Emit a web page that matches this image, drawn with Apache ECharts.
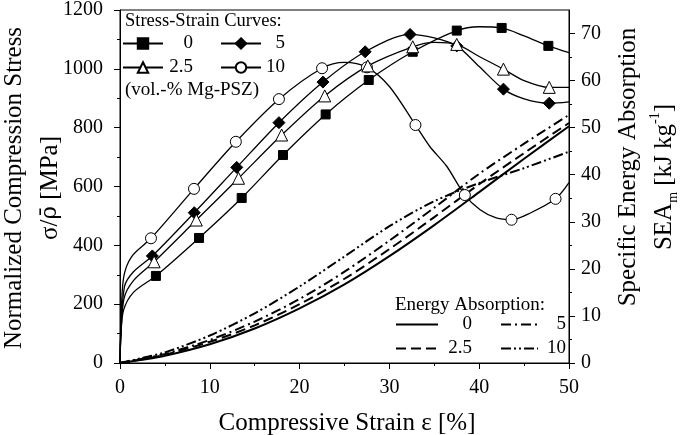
<!DOCTYPE html>
<html><head><meta charset="utf-8">
<script src="https://cdn.jsdelivr.net/npm/echarts@6/dist/echarts.min.js"></script>
<style>html,body{margin:0;padding:0;background:#fff}#c{width:685px;height:435px}</style>
</head><body><div id="c"></div><script>
// ---- Stress-strain curves (strain %, normalized stress MPa) ----
const s0X  = [0,0.1,0.4,1.5,4.0,8.8,13.55,18.15,22.9,27.7,32.6,37.5,40,42.5,45,47.7,50];
const s0Y  = [0,100,180,240,296,425,561,707,845,962,1058,1130,1143,1139,1112,1078,1055];
const s0M  = [4,5,6,7,8,9,10,11,13,15];

const s25X = [0,0.1,0.45,1.5,3.8,8.5,13.2,18.0,22.8,27.6,32.6,35,37.5,40,42.7,45,47.8,50];
const s25Y = [0,90,220,280,344,486,628,775,908,1010,1075,1090,1083,1042,999,960,937,937];
const s25M = [4,5,6,7,8,9,10,12,14,16];

const s5X  = [0,0.1,0.5,1.5,3.6,8.27,13.0,17.7,22.6,27.3,32.3,35,37.5,40,42.7,45,47.8,50];
const s5Y  = [0,100,260,310,364,511,665,817,955,1058,1117,1105,1078,1008,931,898,883,888];
const s5M  = [4,5,6,7,8,9,10,12,14,16];

const s10X = [0,0.1,0.4,1.3,3.45,8.24,12.9,17.7,22.5,25,27.5,30,32.9,34.5,36.4,38.4,40.1,41.9,43.6,45.7,48.5,50];
const s10Y = [0,130,290,362,424,592,752,897,1002,1022,1005,940,809,736,668,571,521,493,487,510,558,613];
const s10M = [4,5,6,7,8,10,12,15,18,20];

// ---- Specific energy absorption (strain %, kJ/kg) ----
const eX   = [0,2.5,5,10,15,20,25,30,35,40,45,50];
const e0   = [0,0.68,1.51,3.97,7.32,11.6,16.7,22.7,29.3,36.3,43.4,50.3];
const e25  = [0,0.79,1.76,4.5,8.0,12.5,17.9,24.2,31.0,38.0,44.6,51.0];
const e5   = [0,0.89,1.92,4.9,8.8,13.6,19.4,26.0,33.0,40.2,46.6,52.7];
const e10  = [0,1.09,2.25,5.84,10.55,16.26,22.64,29.06,34.38,38.23,41.41,44.9];

// ---- ticks ----
const xTicks = [0,10,20,30,40,50];
const rightTicks = [0,10,20,30,40,50,60,70];
const rightMinor = [5,15,25,35,45,55,65];

const FONT = '"Liberation Serif","Times New Roman",serif';

function stressSeries(name, xs, ys, marks, symbol, size, fill) {
  return {
    type: 'line', name, yAxisIndex: 0, smooth: 0.3,
    symbol, symbolSize: size, showAllSymbol: true, animation: false,
    lineStyle: {color: '#000', width: 1.3},
    itemStyle: {color: fill, borderColor: '#000', borderWidth: 1},
    emphasis: {disabled: true},
    data: xs.map((x, i) => marks.includes(i) ? [x, ys[i]] : {value: [x, ys[i]], symbol: 'none'})
  };
}
function energySeries(name, ys, dash) {
  return {
    type: 'line', name, yAxisIndex: 1, smooth: 0.3,
    symbol: 'none', animation: false, emphasis: {disabled: true},
    lineStyle: {color: '#000', width: 2, type: dash},
    itemStyle: {color: '#000'},
    data: eX.map((x, i) => [x, ys[i]])
  };
}
const lab = n => '{r|' + n.slice(1) + '}';
function legendCol(names, left, top, w, labW, isEnergy) {
  const l = {
    data: names, orient: 'vertical', left, top, itemWidth: w, itemHeight: 13, itemGap: 5,
    padding: 0, selectedMode: false, formatter: lab,
    textStyle: {color: '#000', fontFamily: FONT, fontSize: 19,
      rich: {r: {width: labW, align: 'right', fontSize: 19, lineHeight: 20, fontFamily: FONT, color: '#000'}}}
  };
  if (isEnergy) l.itemStyle = {opacity: 0};
  return l;
}
const axisCommon = {
  axisLine: {show: true, lineStyle: {color: '#000', width: 1}},
  axisTick: {show: true, length: 6, lineStyle: {color: '#000', width: 1}},
  splitLine: {show: false}
};

const chart = echarts.init(document.getElementById('c'), null, {renderer: 'canvas'});
chart.setOption({
  backgroundColor: '#fff',
  animation: false,
  grid: {left: 120, right: 116, top: 10, bottom: 72, show: true, borderColor: '#000', borderWidth: 1},
  xAxis: Object.assign({}, axisCommon, {
    type: 'value', min: 0, max: 50, interval: 10,
    minorTick: {show: true, splitNumber: 2, length: 3, lineStyle: {color: '#000'}},
    axisLabel: {color: '#000', fontSize: 20, fontFamily: FONT, margin: 15, customValues: xTicks,
      formatter: v => String(v)}
  }),
  yAxis: [
    Object.assign({}, axisCommon, {
      type: 'value', min: 0, max: 1200, interval: 200, position: 'left',
      minorTick: {show: true, splitNumber: 2, length: 3, lineStyle: {color: '#000'}},
      axisLabel: {color: '#000', fontSize: 20, fontFamily: FONT, margin: 17, formatter: v => String(v)}
    }),
    Object.assign({}, axisCommon, {
      type: 'value', min: 0, max: 75, interval: 10, position: 'right',
      axisTick: {show: true, length: 6, lineStyle: {color: '#000'}, customValues: rightTicks},
      axisLabel: {color: '#000', fontSize: 20, fontFamily: FONT, margin: 12, customValues: rightTicks,
        formatter: v => (v > 72 ? '' : String(v))}
    }),
    {
      type: 'value', min: 0, max: 75, interval: 5, position: 'right',
      axisLine: {show: false}, splitLine: {show: false}, axisLabel: {show: false},
      axisTick: {show: true, length: 3, lineStyle: {color: '#000'}, customValues: rightMinor}
    }
  ],
  legend: [
    legendCol(['S0', 'S2.5'], 122, 34, 40, 25, false),
    legendCol(['S5', 'S10'], 220, 34, 40, 19, false),
    legendCol(['E0', 'E2.5'], 395, 315, 42, 29, true),
    legendCol(['E5', 'E10'], 500, 315, 37, 23, true)
  ],
  series: [
    energySeries('E0', e0, 'solid'),
    energySeries('E2.5', e25, [10, 5]),
    energySeries('E5', e5, [10, 4, 2, 4]),
    energySeries('E10', e10, [10, 3, 2, 3, 2, 3]),
    stressSeries('S10', s10X, s10Y, s10M, 'circle', 11, '#fff'),
    stressSeries('S5', s5X, s5Y, s5M, 'diamond', 12, '#000'),
    stressSeries('S0', s0X, s0Y, s0M, 'rect', 9, '#000'),
    stressSeries('S2.5', s25X, s25Y, s25M, 'triangle', 12, '#fff')
  ],
  graphic: [
    {type: 'text', x: 125, y: 21, style: {text: 'Stress-Strain Curves:', fontSize: 18.5, fontFamily: FONT, fill: '#000', align: 'left', verticalAlign: 'middle'}},
    {type: 'text', x: 125, y: 90, style: {text: '(vol.-% Mg-PSZ)', fontSize: 19, fontFamily: FONT, fill: '#000', align: 'left', verticalAlign: 'middle'}},
    {type: 'text', x: 395, y: 305, style: {text: 'Energy Absorption:', fontSize: 19, fontFamily: FONT, fill: '#000', align: 'left', verticalAlign: 'middle'}},
    {type: 'text', x: 347, y: 423, style: {text: 'Compressive Strain ε [%]', fontSize: 25, fontFamily: FONT, fill: '#000', align: 'center', verticalAlign: 'middle'}},
    {type: 'text', x: 14, y: 188, rotation: Math.PI / 2, style: {text: 'Normalized Compression Stress', fontSize: 25, fontFamily: FONT, fill: '#000', align: 'center', verticalAlign: 'middle'}},
    {type: 'text', x: 50, y: 188, rotation: Math.PI / 2, style: {
      text: '{a|σ/}{b|ρ\u0304}{a| [MPa]}', fill: '#000', align: 'center', verticalAlign: 'middle',
      fontSize: 25, fontFamily: FONT,
      rich: {
        a: {fontSize: 25, fontFamily: FONT, fill: '#000'},
        b: {fontSize: 23, fontFamily: '"DejaVu Serif",serif', fill: '#000'}
      }}},
    {type: 'text', x: 628, y: 167, rotation: Math.PI / 2, style: {text: 'Specific Energy Absorption', fontSize: 25, fontFamily: FONT, fill: '#000', align: 'center', verticalAlign: 'middle'}},
    {type: 'text', x: 664, y: 177, rotation: Math.PI / 2, style: {
      text: '{n|SEA}{sub|m}{n| [kJ kg}{sup|-1}{n|]}', fill: '#000', align: 'center', verticalAlign: 'middle',
      fontSize: 25, fontFamily: FONT,
      rich: {
        n: {fontSize: 25, fontFamily: FONT, fill: '#000', lineHeight: 32, verticalAlign: 'middle'},
        sub: {fontSize: 14, fontFamily: FONT, fill: '#000', lineHeight: 14, verticalAlign: 'bottom'},
        sup: {fontSize: 14, fontFamily: FONT, fill: '#000', lineHeight: 14, verticalAlign: 'top'}
      }}}
  ]
});
</script></body></html>
